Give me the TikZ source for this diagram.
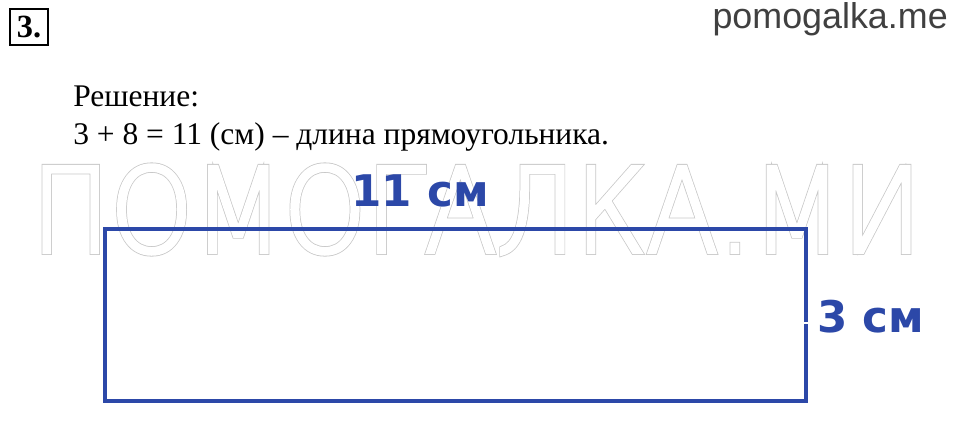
\documentclass[tikz,border=0pt]{standalone}
\usepackage{fontspec}
\setmainfont{Liberation Serif}
\newfontfamily\sitefont{Liberation Sans}
\newfontfamily\labelfont{DejaVu Sans}
\newfontfamily\markouter[FakeBold=5]{DejaVu Sans ExtraLight}
\newfontfamily\markinner[FakeBold=3.6]{DejaVu Sans ExtraLight}
\usepackage{xcolor}
\usetikzlibrary{positioning}
\definecolor{figblue}{RGB}{44,72,168}
\definecolor{sitegray}{RGB}{64,64,64}
\definecolor{markgray}{RGB}{200,200,200}
\tikzset{
    numbox/.style={rectangle, draw, line width=1.5pt, minimum width=0.95cm, minimum height=0.88cm, inner sep=0pt, font=\fontsize{23}{26}\selectfont\bfseries},
    solution/.style={anchor=base west, inner sep=0pt, font=\fontsize{22.4}{26}\selectfont},
    sizelabel/.style={inner sep=0pt, text=figblue, font=\labelfont\bfseries\fontsize{31}{34}\selectfont},
    watermark/.style={inner sep=0pt, anchor=base west, xscale=0.9, transform shape},
    figure/.style={draw=figblue, line width=2.8pt}
}
\begin{document}
\begin{tikzpicture}[x=0.025cm, y=0.025cm]
    \useasboundingbox (0,0) rectangle (960,422);
    % Watermark
    \node[watermark, text=markgray, font=\markouter\fontsize{83}{90}\selectfont] (mark) at (31,170) {ПОМОГАЛКА.МИ};
    \node[watermark, text=white, font=\markinner\fontsize{83}{90}\selectfont] (markfill) at (31,170) {ПОМОГАЛКА.МИ};
    % Header
    \node[numbox] (num) at (29,395) {3.};
    \node[anchor=north east, inner sep=0pt, text=sitegray, font=\sitefont\fontsize{25.5}{28}\selectfont] (site) at (948,420) {pomogalka.me};
    % Solution text
    \node[solution] (head) at (73,315) {Решение:};
    \node[solution] (calc) at (73,277) {3 + 8 = 11 (см) – длина прямоугольника.};
    % Rectangle
    \coordinate (sw) at (105,21);
    \coordinate (ne) at (806,193);
    \draw[figure] (sw) rectangle (ne);
    \draw[white, line width=1pt] (804,99) -- (808,99);
    % Side labels
    \node[sizelabel, anchor=south] (top) at (420,215) {11 см};
    \node[sizelabel, anchor=west] (side) at (817,105) {3 см};
\end{tikzpicture}
\end{document}
